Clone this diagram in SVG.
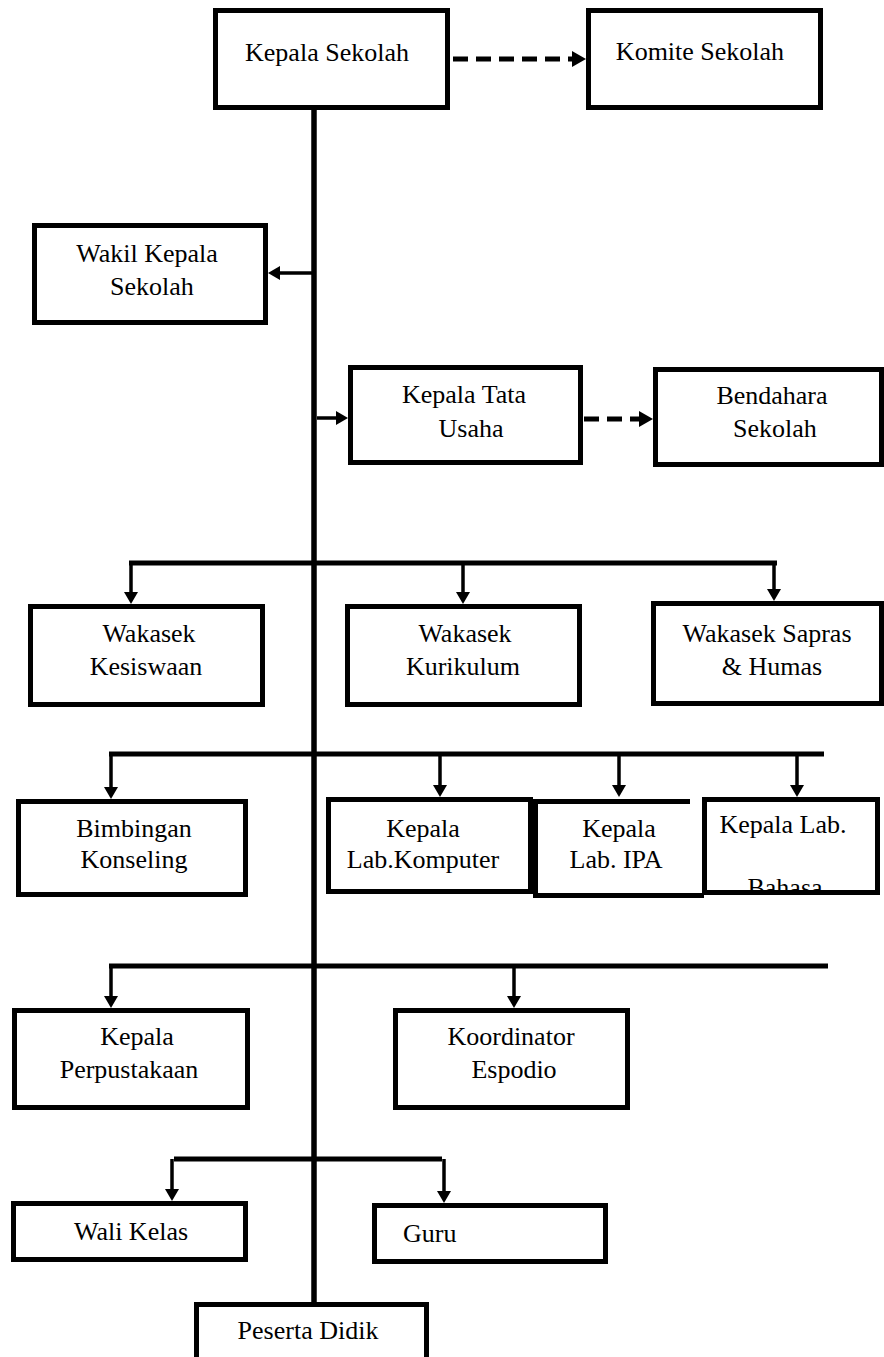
<svg xmlns="http://www.w3.org/2000/svg" width="884" height="1357" viewBox="0 0 884 1357">
<style>
.box{fill:#fff;stroke:#000;stroke-width:5}
.t{font-family:"Liberation Serif","Times New Roman",serif;font-size:26px;fill:#000}
.c{text-anchor:middle}
.ln{stroke:#000;stroke-width:5;fill:none}
.dr{stroke:#000;stroke-width:3.5;fill:none;marker-end:url(#ah)}
.ds{stroke:#000;stroke-width:5;fill:none;stroke-dasharray:15 8;marker-end:url(#ah2)}
</style>
<defs>
<marker id="ah" viewBox="0 0 12 14" markerWidth="12" markerHeight="14" refX="2" refY="7" orient="auto" markerUnits="userSpaceOnUse"><path d="M0,0 L12,7 L0,14 z" fill="#000"/></marker>
<marker id="ah2" viewBox="0 0 14 16" markerWidth="14" markerHeight="16" refX="2" refY="8" orient="auto" markerUnits="userSpaceOnUse"><path d="M0,0 L14,8 L0,16 z" fill="#000"/></marker>
<clipPath id="clipBahasa"><rect x="704" y="797" width="180" height="96"/></clipPath>
</defs>
<g id="connectors">
<line class="ln" x1="314" y1="108" x2="314" y2="1304" style="stroke-width:5.5"/>
<line class="ds" x1="453" y1="59" x2="574" y2="59"/>
<line class="dr" x1="312" y1="273" x2="278" y2="273"/>
<line class="dr" x1="317" y1="418" x2="338" y2="418"/>
<line class="ds" x1="584" y1="419" x2="641" y2="419"/>
<line class="ln" x1="129" y1="563" x2="777" y2="563"/>
<line class="dr" x1="131" y1="563" x2="131" y2="594"/>
<line class="dr" x1="463" y1="563" x2="463" y2="594"/>
<line class="dr" x1="774" y1="563" x2="774" y2="591"/>
<line class="ln" x1="109" y1="754" x2="824" y2="754"/>
<line class="dr" x1="111" y1="754" x2="111" y2="789"/>
<line class="dr" x1="440" y1="754" x2="440" y2="787"/>
<line class="dr" x1="619" y1="754" x2="619" y2="787"/>
<line class="dr" x1="797" y1="754" x2="797" y2="787"/>
<line class="ln" x1="109" y1="966" x2="828" y2="966"/>
<line class="dr" x1="111" y1="966" x2="111" y2="998"/>
<line class="dr" x1="514" y1="966" x2="514" y2="998"/>
<line class="ln" x1="174" y1="1159" x2="442" y2="1159"/>
<line class="dr" x1="172" y1="1159" x2="172" y2="1191"/>
<line class="dr" x1="444" y1="1159" x2="444" y2="1193"/>
</g>
<g id="kepala-sekolah">
<rect class="box" x="215.5" y="10.5" width="232" height="97"/>
<text class="t c" x="327" y="61">Kepala Sekolah</text>
</g>
<g id="komite-sekolah">
<rect class="box" x="588.5" y="10.5" width="232" height="97"/>
<text class="t c" x="700" y="60">Komite Sekolah</text>
</g>
<g id="wakil-kepala-sekolah">
<rect class="box" x="34.5" y="225.5" width="231" height="97"/>
<text class="t c" x="147" y="262">Wakil Kepala</text>
<text class="t c" x="152" y="295">Sekolah</text>
</g>
<g id="kepala-tata-usaha">
<rect class="box" x="350.5" y="367.5" width="230" height="95"/>
<text class="t c" x="464" y="403">Kepala Tata</text>
<text class="t c" x="471" y="437">Usaha</text>
</g>
<g id="bendahara-sekolah">
<rect class="box" x="655.5" y="369.5" width="226" height="95"/>
<text class="t c" x="772" y="404">Bendahara</text>
<text class="t c" x="775" y="437">Sekolah</text>
</g>
<g id="wakasek-kesiswaan">
<rect class="box" x="30.5" y="606.5" width="232" height="98"/>
<text class="t c" x="149" y="642">Wakasek</text>
<text class="t c" x="146" y="675">Kesiswaan</text>
</g>
<g id="wakasek-kurikulum">
<rect class="box" x="347.5" y="606.5" width="232" height="98"/>
<text class="t c" x="465" y="642">Wakasek</text>
<text class="t c" x="463" y="675">Kurikulum</text>
</g>
<g id="wakasek-sapras">
<rect class="box" x="653.5" y="603.5" width="228" height="100"/>
<text class="t c" x="767" y="642">Wakasek Sapras</text>
<text class="t c" x="772" y="675">&amp; Humas</text>
</g>
<g id="bimbingan-konseling">
<rect class="box" x="18.5" y="801.5" width="227" height="93"/>
<text class="t c" x="134" y="837">Bimbingan</text>
<text class="t c" x="134" y="868">Konseling</text>
</g>
<g id="kepala-lab-komputer">
<rect class="box" x="328.5" y="799.5" width="202" height="92"/>
<text class="t c" x="423" y="837">Kepala</text>
<text class="t c" x="423" y="868">Lab.Komputer</text>
</g>
<g id="kepala-lab-ipa">
<path d="M690,801.5 H535.5 V895.5 H704" fill="#fff" stroke="#000" stroke-width="5"/>
<text class="t c" x="619" y="837">Kepala</text>
<text class="t c" x="616" y="868">Lab. IPA</text>
</g>
<g id="kepala-lab-bahasa">
<rect class="box" x="704.5" y="799.5" width="173" height="93"/>
<text class="t c" x="783" y="833">Kepala Lab.</text>
<text class="t c" x="785" y="896" clip-path="url(#clipBahasa)">Bahasa</text>
<rect x="702" y="890" width="178" height="5" fill="#000"/>
</g>
<g id="kepala-perpustakaan">
<rect class="box" x="14.5" y="1010.5" width="233" height="97"/>
<text class="t c" x="137" y="1045">Kepala</text>
<text class="t c" x="129" y="1078">Perpustakaan</text>
</g>
<g id="koordinator-espodio">
<rect class="box" x="395.5" y="1010.5" width="232" height="97"/>
<text class="t c" x="511" y="1045">Koordinator</text>
<text class="t c" x="514" y="1078">Espodio</text>
</g>
<g id="wali-kelas">
<rect class="box" x="13.5" y="1203.5" width="232" height="56"/>
<text class="t c" x="131" y="1240">Wali Kelas</text>
</g>
<g id="guru">
<rect class="box" x="374.5" y="1205.5" width="231" height="56"/>
<text class="t" x="403" y="1242">Guru</text>
</g>
<g id="peserta-didik">
<rect class="box" x="196.5" y="1304.5" width="230" height="100"/>
<text class="t c" x="308" y="1339">Peserta Didik</text>
</g>
</svg>
